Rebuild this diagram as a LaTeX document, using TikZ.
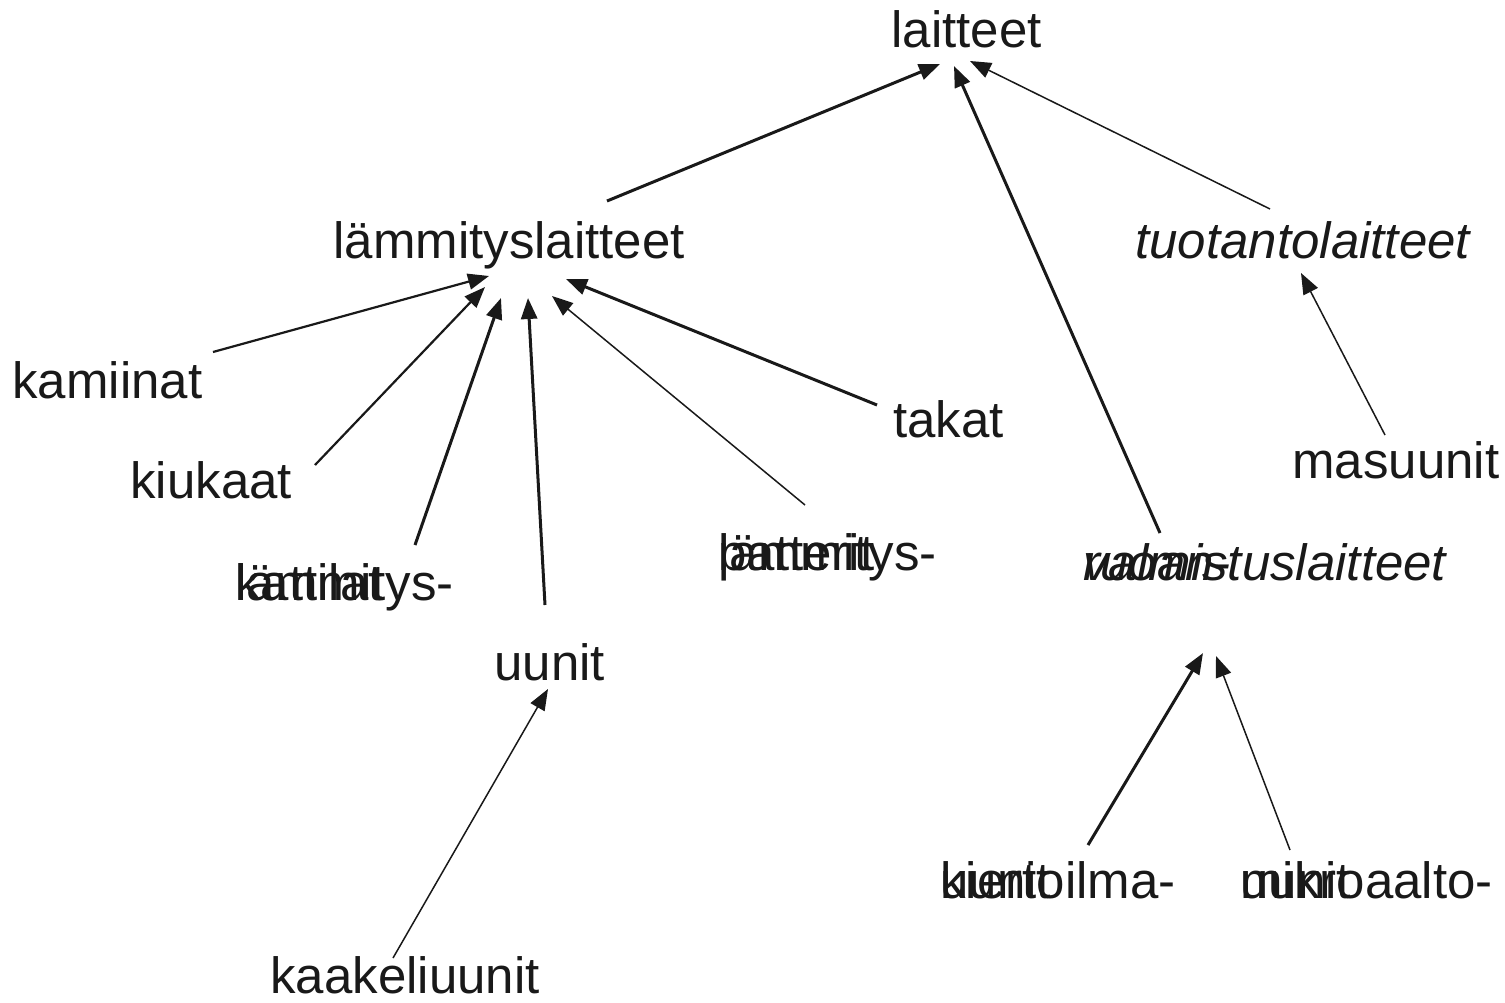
\documentclass[tikz,border=0pt]{standalone}
\usepackage{fontspec}
\setmainfont{Liberation Sans}
\usetikzlibrary{arrows.meta}
\begin{document}
\begin{tikzpicture}[x=0.5pt,y=-0.5pt,
  lbl/.style={anchor=base west,inner sep=0pt,font=\fontsize{25.5}{30}\selectfont,text=black!90},
  ilbl/.style={lbl,font=\fontsize{25.5}{30}\selectfont\itshape},
  arr/.style={-{Triangle[length=10.5pt,width=8pt]},color=black!90},
  ohut/.style={arr,line width=0.75pt},
  keski/.style={arr,line width=1.1pt},
  paksu/.style={arr,line width=1.5pt},
  ]
\useasboundingbox (0,0) rectangle (1505,1002);
% tekstit
\node[lbl] (laitteet) at (891,47) {laitteet};
\node[lbl] (lamm) at (333,258) {lämmityslaitteet};
\node[ilbl] (tuot) at (1135,258) {tuotantolaitteet};
\node[lbl] (kamiinat) at (12,398) {kamiinat};
\node[lbl] (kiukaat) at (130,498) {kiukaat};
\node[lbl] (kattilat) at (235,600) {kattilat};
\node[lbl] (kattilat2) at (235,600) {lämmitys-};
\node[lbl] (uunit) at (494,680) {uunit};
\node[lbl] (patterit) at (718,570) {patterit};
\node[lbl] (patterit2) at (718,570) {lämmitys-};
\node[lbl] (takat) at (893,437) {takat};
\node[ilbl] (valm) at (1083,580) {valmistuslaitteet};
\node[ilbl] (valm2) at (1083,580) {ruoan-};
\node[lbl] (masuunit) at (1292,478) {masuunit};
\node[lbl] (kierto) at (940,898) {kiertoilma-};
\node[lbl] (kierto2) at (940,898) {uunit};
\node[lbl] (mikro) at (1240,898) {mikroaalto-};
\node[lbl] (mikro2) at (1240,898) {uunit};
\node[lbl] (kaakeli) at (270,993) {kaakeliuunit};
% nuolten päät
\coordinate (lamm-a) at (607,201);  \coordinate (laitteet-a) at (940,64);
\coordinate (valm-a) at (1160,533); \coordinate (laitteet-b) at (954,66);
\coordinate (tuot-a) at (1270,209); \coordinate (laitteet-c) at (970,61);
\coordinate (masuunit-a) at (1385,435); \coordinate (tuot-b) at (1301,273);
\coordinate (kamiinat-a) at (213,352); \coordinate (lamm-b) at (489,276);
\coordinate (kiukaat-a) at (315,465); \coordinate (lamm-c) at (485,287);
\coordinate (kattilat-a) at (415,545); \coordinate (lamm-d) at (501,298);
\coordinate (uunit-a) at (545,605); \coordinate (lamm-e) at (528,298);
\coordinate (patterit-a) at (805,505); \coordinate (lamm-f) at (552,296);
\coordinate (takat-a) at (877,405); \coordinate (lamm-g) at (566,279);
\coordinate (kaakeli-a) at (393,958); \coordinate (uunit-b) at (548,689);
\coordinate (kierto-a) at (1088,845); \coordinate (valm-b) at (1203,653);
\coordinate (mikro-a) at (1290,850); \coordinate (valm-c) at (1216,656);
% nuolet
\draw[paksu] (lamm-a) -- (laitteet-a);
\draw[paksu] (valm-a) -- (laitteet-b);
\draw[ohut] (tuot-a) -- (laitteet-c);
\draw[ohut] (masuunit-a) -- (tuot-b);
\draw[keski] (kamiinat-a) -- (lamm-b);
\draw[keski] (kiukaat-a) -- (lamm-c);
\draw[paksu] (kattilat-a) -- (lamm-d);
\draw[paksu] (uunit-a) -- (lamm-e);
\draw[ohut] (patterit-a) -- (lamm-f);
\draw[paksu] (takat-a) -- (lamm-g);
\draw[ohut] (kaakeli-a) -- (uunit-b);
\draw[paksu] (kierto-a) -- (valm-b);
\draw[ohut] (mikro-a) -- (valm-c);
\end{tikzpicture}
\end{document}
